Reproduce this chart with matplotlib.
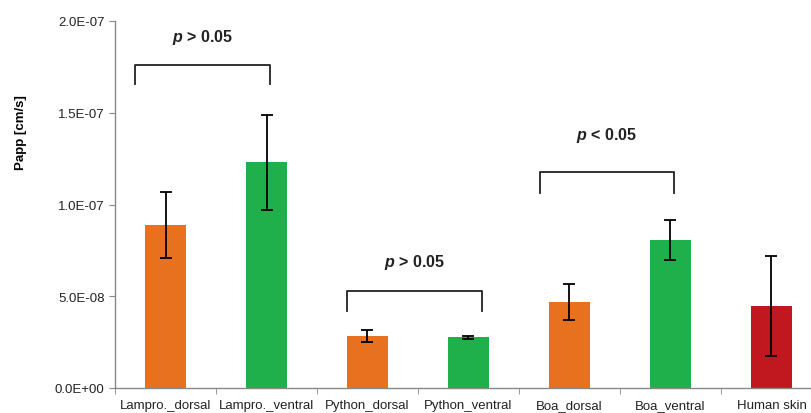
import matplotlib
matplotlib.use("Agg")
import matplotlib.pyplot as plt
from matplotlib.ticker import FuncFormatter

categories = ["Lampro._dorsal", "Lampro._ventral", "Python_dorsal", "Python_ventral",
              "Boa_dorsal", "Boa_ventral", "Human skin"]
values = [8.9e-8, 1.23e-7, 2.85e-8, 2.76e-8, 4.7e-8, 8.07e-8, 4.47e-8]
errors = [1.8e-8, 2.6e-8, 3.3e-9, 8e-10, 9.8e-9, 10.8e-9, 2.7e-8]
colors = ["#E8711F", "#1FAF4B", "#E8711F", "#1FAF4B", "#E8711F", "#1FAF4B", "#C1171F"]

# significance brackets: (left x, right x, top y, bottom y, text y, relation)
brackets = [
    (-0.30, 1.03, 1.762e-7, 1.654e-7, 1.913e-7, "> 0.05"),
    (1.80, 3.13, 5.29e-8, 4.21e-8, 6.92e-8, "> 0.05"),
    (3.71, 5.03, 1.177e-7, 1.065e-7, 1.379e-7, "< 0.05"),
]

plt.rcParams['font.family'] = ['Liberation Sans', 'DejaVu Sans']
plt.rcParams['mathtext.fontset'] = 'custom'
plt.rcParams['mathtext.it'] = 'Liberation Sans:italic:bold'
plt.rcParams['mathtext.rm'] = 'Liberation Sans:bold'

fig = plt.figure(figsize=(8.11, 4.14), dpi=100)
W, H = 811, 414
ax = fig.add_axes([115 / W, (H - 389) / H, 707 / W, (389 - 22) / H])

x = list(range(len(categories)))
ax.bar(x, values, width=0.4, color=colors, zorder=2)
ax.errorbar(x, values, yerr=errors, fmt="none", ecolor="black", elinewidth=1.3,
            capsize=4, capthick=1.3, zorder=3)

ax.set_xlim(-0.5, len(categories) - 0.5)
ax.set_ylim(0, 2.0e-7)
ax.set_yticks([0, 5e-8, 1e-7, 1.5e-7, 2e-7])
ax.yaxis.set_major_formatter(FuncFormatter(lambda v, p: f"{v:.1E}"))
ax.set_xticks(x)
ax.set_xticklabels(categories, fontsize=9.5, color="#222222")
ax.set_xticks([i + 0.5 for i in range(-1, len(categories))], minor=True)
ax.tick_params(axis="x", which="major", length=0, pad=8)
ax.tick_params(axis="x", which="minor", length=4, color="#888888")
ax.tick_params(axis="y", length=4, color="#888888", labelsize=9.5, labelcolor="#222222")

for s in ["top", "right"]:
    ax.spines[s].set_visible(False)
for s in ["left", "bottom"]:
    ax.spines[s].set_color("#888888")
    ax.spines[s].set_linewidth(1.0)

ax.set_ylabel("Papp [cm/s]", fontsize=9.5, fontweight="bold")
ax.yaxis.set_label_coords(-0.125, 0.7)

for xl, xr, yt, yb, ytxt, rel in brackets:
    ax.plot([xl, xl, xr, xr], [yb, yt, yt, yb], color="#222222", lw=1.3, clip_on=False)
    ax.text((xl + xr) / 2, ytxt, r"$\mathit{p}$ " + rel,
            ha="center", va="center", fontsize=11.5, fontweight="bold", color="#222222")

fig.savefig("out.png", dpi=100)
